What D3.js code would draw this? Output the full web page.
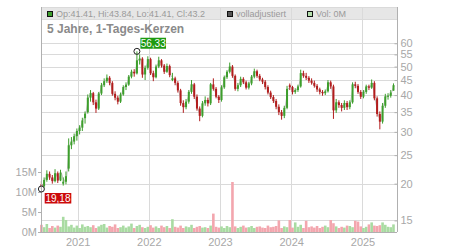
<!DOCTYPE html>
<html><head><meta charset="utf-8">
<script src="https://cdn.jsdelivr.net/npm/d3@7"></script>
<style>
body{margin:0;background:#fff}
svg{display:block;font-family:"Liberation Sans",Arial,Helvetica,sans-serif}
</style>
</head><body>
<svg id="chart" width="450" height="250"></svg>
<script>
// ---- data ----
const startDate = "2020-06-29";
const stepDays = 14;
const opens = [19.9,19.6,20.6,21.6,21.0,20.4,21.7,20.5,20.0,20.3,
 22.5,27.0,27.8,29.0,30.2,31.0,33.4,35.0,39.2,40.6,
 37.8,36.0,40.5,43.2,44.6,45.8,44.0,40.4,39.2,38.0,
 40.2,42.6,43.4,46.2,48.0,47.4,52.5,53.2,47.0,49.5,
 53.0,47.5,46.0,50.0,52.5,50.4,48.0,50.2,45.0,45.6,
 44.0,41.5,37.6,36.4,38.0,41.0,43.5,39.5,36.0,34.0,
 37.5,38.5,37.5,43.5,42.0,39.5,38.5,42.5,46.0,48.0,
 50.0,46.5,42.0,43.2,45.4,44.2,42.4,43.8,46.2,48.2,
 46.5,45.2,44.4,42.6,40.8,39.4,38.2,36.5,35.0,34.0,
 36.2,43.2,42.6,41.0,41.6,42.8,47.5,46.5,45.8,44.8,
 44.0,43.0,41.8,41.0,40.6,41.2,44.2,42.8,35.5,37.8,
 37.0,36.2,37.6,36.4,37.8,43.5,43.0,41.0,39.5,41.0,
 42.8,42.4,44.0,39.0,34.5,32.5,36.8,39.6,39.8,41.41];
const highs = [20.4,21.0,22.2,22.0,21.4,22.4,22.0,22.3,21.0,22.0,
 28.5,28.8,29.6,30.8,31.6,33.5,35.2,40.2,41.6,41.0,
 38.6,41.0,44.0,45.6,47.0,46.4,44.6,41.2,39.8,40.8,
 43.2,44.2,46.8,48.8,49.0,56.33,55.0,53.8,50.4,54.2,
 53.6,48.4,50.8,54.0,53.0,51.0,51.2,50.8,47.6,46.2,
 44.6,42.0,38.4,38.8,41.6,45.0,44.0,40.2,36.6,38.2,
 39.6,39.2,44.0,45.6,42.6,40.0,43.2,46.6,48.6,51.6,
 50.6,47.0,44.0,46.2,46.0,44.8,44.4,46.8,49.2,48.8,
 47.2,45.8,45.0,43.2,41.4,40.0,38.8,37.2,35.6,36.8,
 43.0,43.8,43.0,42.2,43.4,48.8,48.4,47.6,46.4,45.6,
 44.8,43.6,42.4,41.6,41.8,45.0,44.8,43.4,38.8,38.4,
 37.6,38.4,38.2,38.4,44.2,44.4,43.6,41.6,41.6,43.4,
 43.4,45.2,44.6,39.6,35.2,37.6,40.4,40.6,41.6,43.84];
const lows = [19.18,19.4,20.3,20.6,20.0,20.2,20.1,20.4,19.7,19.9,
 22.0,26.2,27.2,28.0,29.4,30.2,32.0,34.6,38.0,37.0,
 34.8,35.6,40.0,42.6,44.0,43.2,39.8,38.4,37.2,37.6,
 39.8,41.6,43.0,45.6,46.2,47.0,50.8,45.8,45.0,48.8,
 46.8,44.6,45.6,49.4,49.6,47.2,47.6,46.0,44.6,43.2,
 40.8,36.8,34.8,35.8,37.4,40.4,38.8,35.4,32.6,33.6,
 36.8,36.6,37.0,41.4,39.0,37.6,38.0,42.0,45.4,47.4,
 45.8,41.4,41.2,42.6,43.6,41.8,41.8,43.2,45.6,45.8,
 44.6,43.6,41.8,40.2,38.8,37.6,35.8,34.2,33.0,33.4,
 35.8,41.6,40.2,40.4,41.0,42.4,45.8,45.0,44.0,43.4,
 42.4,41.0,40.2,39.8,40.0,40.8,42.0,33.2,34.8,36.2,
 35.2,35.6,35.6,35.8,37.4,42.2,40.4,38.8,39.0,40.4,
 41.6,42.0,38.4,33.8,30.6,32.0,36.2,38.6,39.2,41.41];
const closes = [19.6,20.6,21.6,21.0,20.4,21.7,20.5,21.8,20.3,21.2,
 27.0,27.8,29.0,30.2,31.0,32.8,34.6,39.2,40.6,37.8,
 36.0,40.5,43.2,44.6,45.8,44.0,40.4,39.2,38.0,40.2,
 42.6,43.4,46.2,48.0,47.4,52.5,53.2,47.0,49.5,53.0,
 47.5,46.0,50.0,52.5,50.4,48.0,50.2,46.8,45.6,44.0,
 41.5,37.6,36.4,38.0,41.0,43.5,39.5,36.0,34.0,37.5,
 38.5,37.5,43.5,42.0,39.5,38.5,42.5,46.0,48.0,50.0,
 46.5,42.0,43.2,45.4,44.2,42.4,43.8,46.2,48.2,46.5,
 45.2,44.4,42.6,40.8,39.4,38.2,36.5,35.0,34.0,36.2,
 42.0,42.6,41.0,41.6,42.8,47.5,46.5,45.8,44.8,44.0,
 43.0,41.8,41.0,40.6,41.2,44.2,42.8,35.5,37.8,37.0,
 36.2,37.6,36.4,37.8,43.5,43.0,41.0,39.5,41.0,42.8,
 42.4,44.0,39.0,34.5,32.5,36.8,39.6,39.8,40.8,43.2];
const volumes = [1.8,1.2,2.0,1.0,1.5,1.1,1.6,1.3,3.8,3.0,
 1.4,1.8,1.1,1.6,1.0,1.9,1.3,1.5,1.2,1.7,
 1.0,1.4,1.8,2.0,1.1,1.5,1.3,1.9,1.0,1.2,
 1.6,1.1,1.4,2.1,1.0,1.5,1.8,1.2,1.0,1.3,
 1.7,1.1,1.4,1.0,1.6,1.2,1.5,1.0,3.2,1.3,
 1.1,1.6,1.0,1.4,1.2,1.8,1.0,1.3,1.5,1.1,
 1.2,1.0,1.6,4.6,1.3,1.1,1.4,1.0,1.5,1.2,
 12.5,1.4,1.0,1.3,1.6,1.1,1.2,1.5,1.0,1.3,
 1.4,1.1,1.0,1.6,1.2,1.3,1.5,2.9,1.0,1.4,
 1.2,3.0,1.1,2.4,1.3,1.8,1.0,2.8,1.2,1.4,
 1.1,1.5,1.0,1.3,1.6,1.2,3.0,2.2,1.4,1.0,
 1.3,1.1,1.6,1.5,1.2,2.8,2.6,1.4,1.0,1.3,
 1.9,2.4,1.6,1.5,1.7,2.4,1.8,1.3,1.2,1.9];
const priceTicks = [15,20,25,30,35,40,45,50,55,60];
const volumeTicks = [0,5,10,15];
const yearLabels = ["2021","2022","2023","2024","2025"];
const titleText = "5 Jahre, 1-Tages-Kerzen";
const legendLabels = ["Op:41.41, Hi:43.84, Lo:41.41, Cl:43.2","volladjustiert","Vol: 0M"];

// ---- build ----
const parse = d3.timeParse("%Y-%m-%d");
const t0 = parse(startDate);
const candles = closes.map((c,i)=>({date:d3.timeDay.offset(t0,i*stepDays),o:opens[i],h:highs[i],l:lows[i],c:c,v:volumes[i]}));

const L=41, R=397, T=7, B=232, HB=19;
const svg = d3.select("#chart");
const x = d3.scaleTime().domain([parse("2020-06-27"),parse("2025-06-27")]).range([L,R]);
const y = d3.scaleLog().domain([13.7,79.7]).range([B,T]);
const yv = d3.scaleLinear().domain([0,15]).range([B,172]);

const gridC="#dadada", axisC="#b0b0b0", textC="#a8a8a8";
const green="#3d9e2c", red="#b21d1d", vGreen="#a9dba2", vRed="#f3a6ae";

// header band
svg.append("rect").attr("x",L).attr("y",T).attr("width",R-L).attr("height",HB-T).attr("fill","#e6e6e6");
// grid
const yearDates = yearLabels.map(s=>parse(s+"-01-01"));
svg.append("g").selectAll("line").data(priceTicks).join("line")
  .attr("x1",L).attr("x2",R).attr("y1",d=>Math.round(y(d))+0.5).attr("y2",d=>Math.round(y(d))+0.5)
  .attr("stroke",gridC);
svg.append("line").attr("x1",L).attr("x2",R).attr("y1",HB+0.5).attr("y2",HB+0.5).attr("stroke",gridC);
svg.append("line").attr("x1",L).attr("x2",R).attr("y1",T+0.5).attr("y2",T+0.5).attr("stroke",gridC);
svg.append("g").selectAll("line").data(yearDates).join("line")
  .attr("x1",d=>Math.round(x(d))+0.5).attr("x2",d=>Math.round(x(d))+0.5).attr("y1",T).attr("y2",B)
  .attr("stroke",gridC);

// volume
const bw = 2.6;
svg.append("g").selectAll("rect").data(candles).join("rect")
  .attr("x",d=>x(d.date)-bw/2).attr("width",bw)
  .attr("y",d=>yv(d.v)).attr("height",d=>B-yv(d.v))
  .attr("fill",d=>d.c>=d.o?vGreen:vRed);

// gray close line
svg.append("path").datum(candles)
  .attr("d",d3.line().x(d=>x(d.date)+0.8).y(d=>y(d.c)))
  .attr("fill","none").attr("stroke","#c4c4c4").attr("stroke-width",1);

// candles
const cg = svg.append("g").selectAll("g").data(candles).join("g");
cg.append("line")
  .attr("x1",d=>x(d.date)).attr("x2",d=>x(d.date))
  .attr("y1",d=>y(d.h)).attr("y2",d=>y(d.l))
  .attr("stroke",d=>d.c>=d.o?green:red).attr("stroke-width",1);
cg.append("rect")
  .attr("x",d=>x(d.date)-1).attr("width",2)
  .attr("y",d=>y(Math.max(d.o,d.c)))
  .attr("height",d=>Math.max(1,Math.abs(y(d.o)-y(d.c))))
  .attr("fill",d=>d.c>=d.o?green:red);

// frame
svg.append("line").attr("x1",L+0.5).attr("x2",L+0.5).attr("y1",T).attr("y2",B).attr("stroke",axisC);
svg.append("line").attr("x1",L).attr("x2",R).attr("y1",B+0.5).attr("y2",B+0.5).attr("stroke",axisC);

// right price axis
const ra = svg.append("g").attr("transform",`translate(${R+0.5},0)`)
  .call(d3.axisRight(y).tickValues(priceTicks).tickFormat(d3.format("d")).tickSize(-3).tickPadding(3));
ra.select(".domain").attr("stroke",axisC).attr("d",`M0,${T}V${B}`);
ra.selectAll(".tick line").attr("stroke",axisC);
ra.selectAll("text").attr("fill",textC).attr("font-size",11).attr("font-family","Liberation Sans, Arial, sans-serif").attr("x",3);

// left volume axis
const la = svg.append("g").attr("transform",`translate(${L},0)`)
  .call(d3.axisLeft(yv).tickValues(volumeTicks).tickFormat(d=>d+"M").tickSize(3).tickPadding(1));
la.select(".domain").remove();
la.selectAll(".tick line").attr("stroke",axisC);
la.selectAll("text").attr("fill",textC).attr("font-size",11).attr("font-family","Liberation Sans, Arial, sans-serif");

// x axis
const xa = svg.append("g").attr("transform",`translate(0,${B})`)
  .call(d3.axisBottom(x).tickValues(yearDates).tickFormat(d3.timeFormat("%Y")).tickSize(0).tickPadding(6));
xa.select(".domain").remove();
xa.selectAll("text").attr("fill",textC).attr("font-size",11).attr("font-family","Liberation Sans, Arial, sans-serif");

// legend in header
const legendItems = [
  {x:47.5, fill:"#3d9e2c", label:legendLabels[0]},
  {x:227.5, fill:"#555555", label:legendLabels[1]},
  {x:307.5, fill:"#b5e0ad", label:legendLabels[2]}
];
const lg = svg.append("g").selectAll("g").data(legendItems).join("g");
lg.append("rect").attr("x",d=>d.x).attr("y",11.5).attr("width",5).attr("height",5)
  .attr("fill",d=>d.fill).attr("stroke","#111").attr("stroke-width",1);
lg.append("text").attr("x",d=>d.x+8.5).attr("y",17.3).text(d=>d.label)
  .attr("font-size",9).attr("fill","#9a9a9a");

// title
svg.append("text").attr("x",47).attr("y",33).text(titleText)
  .attr("font-size",12).attr("font-weight","bold").attr("fill","#8a8a8a");

// extremes
const fmt = v => d3.format(".2f")(v).replace(".",",");
const iMax = d3.maxIndex(candles,d=>d.h), iMin = d3.minIndex(candles,d=>d.l);
const mx = x(candles[iMax].date), my = y(candles[iMax].h);
const nx = x(candles[iMin].date), ny = y(candles[iMin].l);
svg.append("rect").attr("x",mx+3.5).attr("y",my-13.6).attr("width",25.6).attr("height",11).attr("fill","#1e9a12");
svg.append("text").attr("x",mx+3.5+12.8).attr("y",my-4.6).attr("text-anchor","middle")
  .attr("font-size",10).attr("fill","#fff").text(fmt(candles[iMax].h));
svg.append("circle").attr("cx",mx).attr("cy",my).attr("r",3).attr("fill","none").attr("stroke","#222");
svg.append("rect").attr("x",nx+3.3).attr("y",ny+4).attr("width",26.6).attr("height",10.5).attr("fill","#cc0a0a");
svg.append("text").attr("x",nx+3.3+13.3).attr("y",ny+12.8).attr("text-anchor","middle")
  .attr("font-size",10).attr("fill","#fff").text(fmt(candles[iMin].l));
svg.append("circle").attr("cx",nx).attr("cy",ny).attr("r",3).attr("fill","none").attr("stroke","#222");
</script>
</body></html>
